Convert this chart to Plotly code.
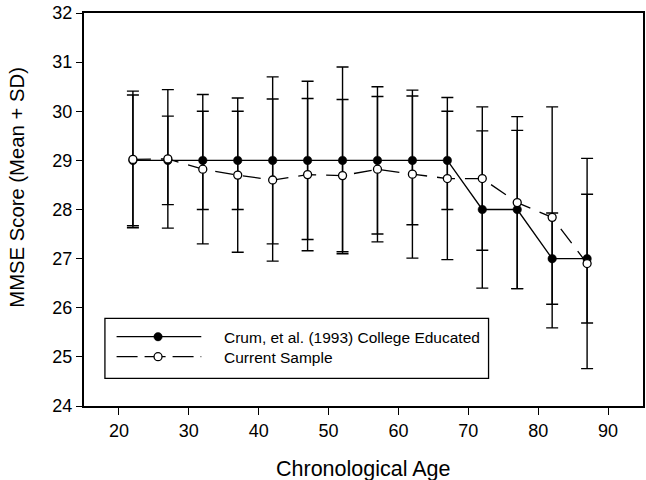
import plotly.graph_objects as go

ages = [22, 27, 32, 37, 42, 47, 52, 57, 62, 67, 72, 77, 82, 87]
crum_mean = [29, 29, 29, 29, 29, 29, 29, 29, 29, 29, 28, 28, 27, 27]
crum_sd = [1.33, 0.90, 1.00, 1.00, 1.70, 1.61, 1.90, 1.50, 1.31, 1.00, 1.60, 1.61, 0.93, 1.31]
cur_mean = [29.02, 29.03, 28.82, 28.70, 28.60, 28.71, 28.69, 28.82, 28.72, 28.63, 28.63, 28.14, 27.84, 26.90]
cur_sd = [1.39, 1.41, 1.52, 1.57, 1.65, 1.55, 1.55, 1.48, 1.71, 1.65, 1.46, 1.75, 2.25, 2.14]

x_ticks = [20, 30, 40, 50, 60, 70, 80, 90]
y_ticks = [24, 25, 26, 27, 28, 29, 30, 31, 32]

legend_labels = ["Crum, et al. (1993) College Educated", "Current Sample"]

FONT = "Liberation Sans, Arial, sans-serif"
DASH = "18px,10px"

fig = go.Figure()
fig.add_trace(go.Scatter(
    x=ages, y=crum_mean, mode="lines+markers", name=legend_labels[0],
    line=dict(color="black", width=1.3),
    marker=dict(symbol="circle", size=8.5, color="black", line=dict(color="black", width=0.5)),
    error_y=dict(type="data", array=crum_sd, symmetric=True, color="black", thickness=1.4, width=6),
    showlegend=False,
))
fig.add_trace(go.Scatter(
    x=ages, y=cur_mean, mode="lines+markers", name=legend_labels[1],
    line=dict(color="black", width=1.3, dash=DASH),
    marker=dict(symbol="circle", size=8, color="white", line=dict(color="black", width=1.3)),
    error_y=dict(type="data", array=cur_sd, symmetric=True, color="black", thickness=1.4, width=6),
    showlegend=False,
))

W, H = 646, 480
L, R, T, B = 84, 1, 13, 74
pw, ph = W - L - R, H - T - B

def px(xp):
    return (xp - L) / pw

def py(yp):
    return (H - B - yp) / ph

shapes = []
annotations = []
# legend box
shapes.append(dict(type="rect", xref="paper", yref="paper",
                   x0=px(105), x1=px(490), y0=py(378.3), y1=py(318.3),
                   line=dict(color="black", width=1.3), fillcolor="white", layer="above"))
# entry 1
shapes.append(dict(type="line", xref="paper", yref="paper",
                   x0=px(116.7), x1=px(201.7), y0=py(336.7), y1=py(336.7),
                   line=dict(color="black", width=1.3)))
shapes.append(dict(type="circle", xref="paper", yref="paper", xsizemode="pixel", ysizemode="pixel",
                   xanchor=px(158.3), yanchor=py(336.7), x0=-4.2, x1=4.2, y0=-4.2, y1=4.2,
                   fillcolor="black", line=dict(color="black", width=0.5)))
# entry 2
shapes.append(dict(type="line", xref="paper", yref="paper",
                   x0=px(116.7), x1=px(201.7), y0=py(356.7), y1=py(356.7),
                   line=dict(color="black", width=1.3, dash="21px,7px")))
shapes.append(dict(type="circle", xref="paper", yref="paper", xsizemode="pixel", ysizemode="pixel",
                   xanchor=px(158.3), yanchor=py(356.7), x0=-4, x1=4, y0=-4, y1=4,
                   fillcolor="white", line=dict(color="black", width=1.3)))
for lab, yp in zip(legend_labels, [337.5, 357.5]):
    annotations.append(dict(text=lab, xref="paper", yref="paper", x=px(222.7), y=py(yp),
                            xanchor="left", yanchor="middle", showarrow=False,
                            font=dict(family=FONT, size=15.5, color="black")))

# axis titles
annotations.append(dict(text="Chronological Age", xref="paper", yref="paper",
                        x=px(364.5), y=py(469), xanchor="center", yanchor="middle",
                        showarrow=False, font=dict(family=FONT, size=21.5, color="black")))
annotations.append(dict(text="MMSE Score (Mean + SD)", xref="paper", yref="paper",
                        x=px(16), y=py(187.5), xanchor="center", yanchor="middle", textangle=-90,
                        showarrow=False, font=dict(family=FONT, size=20.3, color="black")))

fig.update_layout(
    width=W, height=H,
    margin=dict(l=L, r=R, t=T, b=B, pad=0),
    paper_bgcolor="white", plot_bgcolor="white",
    font=dict(family=FONT, color="black"),
    shapes=shapes, annotations=annotations,
    showlegend=False,
)
fig.update_xaxes(
    range=[15, 95], tickvals=x_ticks, ticktext=[str(v) for v in x_ticks],
    showgrid=False, zeroline=False,
    showline=True, linecolor="black", linewidth=2, mirror=True,
    ticks="outside", ticklen=7, tickwidth=1.3, tickcolor="black",
    tickfont=dict(family=FONT, size=18, color="black"),
)
fig.update_yaxes(
    range=[24, 32], tickvals=y_ticks, ticktext=[str(v) for v in y_ticks],
    showgrid=False, zeroline=False,
    showline=True, linecolor="black", linewidth=2, mirror=True,
    ticks="outside", ticklen=6, tickwidth=1.3, tickcolor="black",
    tickfont=dict(family=FONT, size=18, color="black"),
)

fig.write_html("out.html", config={"displayModeBar": False},
               post_script="document.body.style.margin='0';document.body.style.overflow='hidden';")
